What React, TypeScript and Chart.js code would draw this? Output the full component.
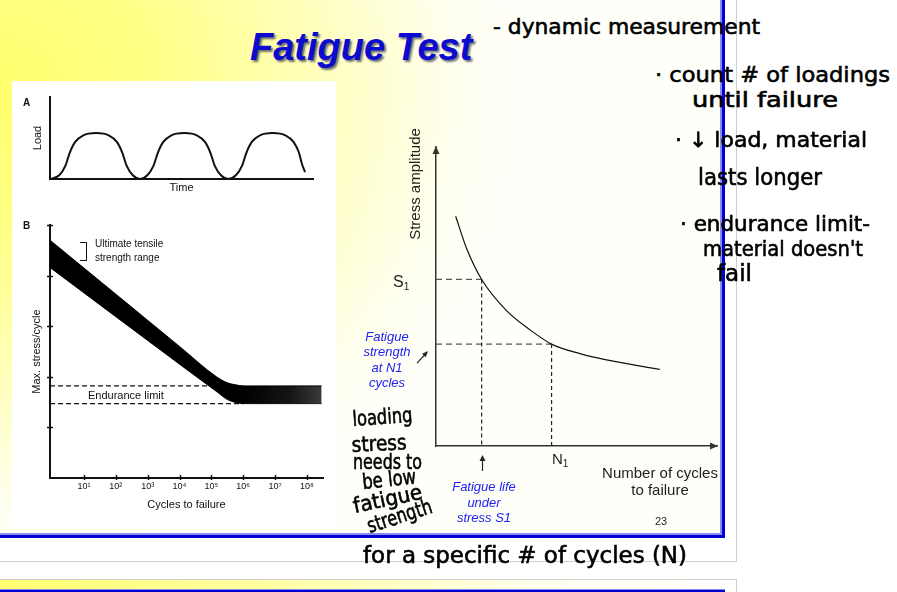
import React, { useEffect, useRef } from 'react';
import { Chart, registerables } from 'chart.js';

Chart.register(...registerables);

// ================= DATA =================
// Panel A: cyclic load vs time
const loadTime = [0, 1.05, 1.75, 2.25, 2.85, 3.75, 5.25, 6.75, 7.65, 8.25, 8.75, 9.45, 10.3, 11.1, 11.8, 12.3, 12.9, 13.8, 15.3, 16.8, 17.7, 18.3, 18.8, 19.5, 20.35, 21.2, 21.9, 22.4, 23.0, 23.9, 25.4, 26.9, 27.8, 28.4, 28.75, 29.1];
const loadLevel = [0, 0.45, 1.6, 3.2, 4.5, 5.3, 5.61, 5.3, 4.5, 3.2, 1.6, 0.45, 0, 0.45, 1.6, 3.2, 4.5, 5.3, 5.61, 5.3, 4.5, 3.2, 1.6, 0.45, 0, 0.45, 1.6, 3.2, 4.5, 5.3, 5.61, 5.3, 4.5, 3.2, 1.8, 0.85];

// Panel B: max stress per cycle vs cycles to failure (scatter band)
const bandCycles = [0.857, 1e4, 1.45e5, 3.2e5, 6e5, 1e6, 2.9e8];
const bandUpper = [4.7, 2.6, 2.0, 1.88, 1.84, 1.82, 1.82];
const bandLower = [4.16, 2.25, 1.71, 1.55, 1.49, 1.47, 1.47];
const enduranceCycles = [0.857, 1e6];
const enduranceUpper = [1.82, 1.82];
const enduranceLower = [1.47, 1.47];
const cycleTicks = [1e1, 1e2, 1e3, 1e4, 1e5, 1e6, 1e7, 1e8];
const cycleTickLabels = ['10¹', '10²', '10³', '10⁴', '10⁵', '10⁶', '10⁷', '10⁸'];
const stressTicks = [1, 2, 3, 4, 5];

// Main S-N curve
const snCycles = [7.0, 10.9, 16.25, 25.1, 33.4, 41.13, 51.2, 60.7, 79.63];
const snStress = [76.85, 66.05, 55.7, 45.3, 38.9, 34.08, 30.9, 28.8, 25.63];
const s1Stress = 55.7;
const s1Life = 16.25;
const n1Cycles = 41.13;
const n1Strength = 34.08;

// ================= STYLE =================
const FONT = '"Liberation Sans", Arial, Helvetica, sans-serif';
const HAND = '"DejaVu Sans", sans-serif';
const INK = '#111';

const pts = (xs: number[], ys: number[]) => xs.map((x, i) => ({ x, y: ys[i] }));

// ================= CHART CONFIGS =================
function chartAConfig(): any {
  return {
    type: 'line',
    data: {
      datasets: [
        {
          label: 'Load',
          data: pts(loadTime, loadLevel),
          borderColor: INK,
          borderWidth: 2,
          pointRadius: 0,
          cubicInterpolationMode: 'monotone',
          fill: false,
        },
      ],
    },
    options: {
      responsive: false,
      animation: false,
      events: [],
      layout: { padding: { left: 10, right: 19, top: 13, bottom: 0 } },
      plugins: { legend: { display: false }, tooltip: { enabled: false } },
      scales: {
        x: {
          type: 'linear', min: 0, max: 30,
          ticks: { display: false },
          grid: { display: false, drawTicks: false },
          border: { display: true, color: INK, width: 2 },
          title: { display: true, text: 'Time', color: INK, font: { family: FONT, size: 11 }, padding: { top: 0, bottom: 1.4 } },
          afterFit: (s: any) => { s.height = 17; },
        },
        y: {
          type: 'linear', min: 0, max: 10,
          ticks: { display: false },
          grid: { display: false, drawTicks: false },
          border: { display: true, color: INK, width: 2 },
          title: { display: true, text: 'Load', color: INK, font: { family: FONT, size: 11 }, padding: { top: 7.4, bottom: 0 } },
          afterFit: (s: any) => { s.width = 26; },
        },
      },
    },
  };
}

const crossTicksPlugin = {
  id: 'crossTicks',
  afterDraw(chart: any) {
    const { ctx, chartArea: a, scales } = chart;
    ctx.save();
    ctx.strokeStyle = INK;
    ctx.lineWidth = 1.5;
    ctx.beginPath();
    stressTicks.forEach((v) => {
      const py = Math.round(scales.y.getPixelForValue(v)) + 0.5;
      ctx.moveTo(a.left - 3, py);
      ctx.lineTo(a.left + 3, py);
    });
    cycleTicks.forEach((v) => {
      const px = Math.round(scales.x.getPixelForValue(v)) + 0.5;
      ctx.moveTo(px, a.bottom - 3);
      ctx.lineTo(px, a.bottom + 2);
    });
    ctx.stroke();
    ctx.restore();
  },
};

const bandFill = (c: any) => {
  const chart = c.chart;
  const { ctx, chartArea, scales } = chart;
  if (!chartArea || !scales || !scales.x) return '#000';
  const x0 = scales.x.getPixelForValue(1e6);
  const x1 = scales.x.getPixelForValue(2.9e8);
  const g = ctx.createLinearGradient(x0, 0, x1, 0);
  g.addColorStop(0, '#000');
  g.addColorStop(0.6, '#151515');
  g.addColorStop(1, '#3a3a3a');
  return g;
};

function chartBConfig(): any {
  return {
    type: 'line',
    data: {
      datasets: [
        {
          label: 'Upper edge',
          data: pts(bandCycles, bandUpper),
          borderColor: '#000', borderWidth: 1, pointRadius: 0,
          cubicInterpolationMode: 'monotone',
          fill: '+1',
          backgroundColor: bandFill,
        },
        {
          label: 'Lower edge',
          data: pts(bandCycles, bandLower),
          borderColor: '#000', borderWidth: 1, pointRadius: 0,
          cubicInterpolationMode: 'monotone',
          fill: false,
        },
        {
          label: 'Endurance upper',
          data: pts(enduranceCycles, enduranceUpper),
          borderColor: INK, borderWidth: 1.3, borderDash: [5, 3], pointRadius: 0, fill: false,
        },
        {
          label: 'Endurance lower',
          data: pts(enduranceCycles, enduranceLower),
          borderColor: INK, borderWidth: 1.3, borderDash: [5, 3], pointRadius: 0, fill: false,
        },
      ],
    },
    options: {
      responsive: false,
      animation: false,
      events: [],
      layout: { padding: { left: 10, right: 11, top: 10, bottom: 7 } },
      plugins: { legend: { display: false }, tooltip: { enabled: false } },
      scales: {
        x: {
          type: 'logarithmic', min: 0.857, max: 3.2e8,
          afterBuildTicks: (s: any) => { s.ticks = cycleTicks.map((v) => ({ value: v })); },
          ticks: {
            display: true, autoSkip: false, maxRotation: 0, minRotation: 0, padding: 3,
            color: INK, font: { family: FONT, size: 9 },
            callback: (_v: any, i: number) => cycleTickLabels[i],
          },
          grid: { display: false, drawTicks: false },
          border: { display: true, color: INK, width: 2 },
          title: { display: true, text: 'Cycles to failure', color: INK, font: { family: FONT, size: 11 }, padding: { top: 0, bottom: 6 } },
          afterFit: (s: any) => { s.height = 40; },
        },
        y: {
          type: 'linear', min: 0, max: 5,
          ticks: { display: false },
          grid: { display: false, drawTicks: false },
          border: { display: true, color: INK, width: 2 },
          title: { display: true, text: 'Max. stress/cycle', color: INK, font: { family: FONT, size: 11 }, padding: { top: 6.4, bottom: 0 } },
          afterFit: (s: any) => { s.width = 26; },
        },
      },
    },
    plugins: [crossTicksPlugin],
  };
}

const snArrowsPlugin = {
  id: 'snArrows',
  afterDraw(chart: any) {
    const { ctx, chartArea: a, scales } = chart;
    ctx.save();
    ctx.fillStyle = '#333';
    ctx.strokeStyle = '#222';
    ctx.lineWidth = 1.2;
    // axis arrowheads
    ctx.beginPath();
    ctx.moveTo(a.left, a.top - 1);
    ctx.lineTo(a.left - 3.5, a.top + 7);
    ctx.lineTo(a.left + 3.5, a.top + 7);
    ctx.closePath();
    ctx.fill();
    ctx.beginPath();
    ctx.moveTo(a.right + 1, a.bottom);
    ctx.lineTo(a.right - 7, a.bottom - 3.5);
    ctx.lineTo(a.right - 7, a.bottom + 3.5);
    ctx.closePath();
    ctx.fill();
    // arrow up to fatigue life at S1
    ctx.fillStyle = '#222';
    const px = Math.round(scales.x.getPixelForValue(s1Life)) + 0.5;
    ctx.beginPath();
    ctx.moveTo(px, a.bottom + 25);
    ctx.lineTo(px, a.bottom + 13);
    ctx.stroke();
    ctx.beginPath();
    ctx.moveTo(px, a.bottom + 9);
    ctx.lineTo(px - 3, a.bottom + 15);
    ctx.lineTo(px + 3, a.bottom + 15);
    ctx.closePath();
    ctx.fill();
    // diagonal arrow toward fatigue strength level
    const py = scales.y.getPixelForValue(n1Strength);
    const sx = a.left - 19, sy = py + 19, ex = a.left - 8, ey = py + 7;
    const len = Math.hypot(ex - sx, ey - sy);
    const dx = (ex - sx) / len, dy = (ey - sy) / len;
    ctx.beginPath();
    ctx.moveTo(sx, sy);
    ctx.lineTo(ex - dx * 4, ey - dy * 4);
    ctx.stroke();
    ctx.beginPath();
    ctx.moveTo(ex, ey);
    ctx.lineTo(ex - dx * 6 - dy * 2.5, ey - dy * 6 + dx * 2.5);
    ctx.lineTo(ex - dx * 6 + dy * 2.5, ey - dy * 6 - dx * 2.5);
    ctx.closePath();
    ctx.fill();
    ctx.restore();
  },
};

function chartMainConfig(): any {
  return {
    type: 'line',
    data: {
      datasets: [
        {
          label: 'S-N curve',
          data: pts(snCycles, snStress),
          borderColor: '#111', borderWidth: 1.2, pointRadius: 0,
          cubicInterpolationMode: 'monotone', fill: false,
        },
        {
          label: 'S1 level',
          data: [{ x: 0, y: s1Stress }, { x: s1Life, y: s1Stress }],
          borderColor: '#555', borderWidth: 1.2, borderDash: [6, 4], pointRadius: 0, fill: false,
        },
        {
          label: 'S1 life',
          data: [{ x: s1Life, y: s1Stress }, { x: s1Life, y: 0 }],
          borderColor: '#222', borderWidth: 1.2, borderDash: [4, 3], pointRadius: 0, fill: false,
        },
        {
          label: 'N1 strength',
          data: [{ x: 0, y: n1Strength }, { x: n1Cycles, y: n1Strength }],
          borderColor: '#555', borderWidth: 1.2, borderDash: [6, 4], pointRadius: 0, fill: false,
        },
        {
          label: 'N1 cycles',
          data: [{ x: n1Cycles, y: n1Strength }, { x: n1Cycles, y: 0 }],
          borderColor: '#222', borderWidth: 1.2, borderDash: [4, 3], pointRadius: 0, fill: false,
        },
      ],
    },
    options: {
      responsive: false,
      animation: false,
      events: [],
      layout: { padding: { left: 76, right: 13, top: 12, bottom: 34 } },
      plugins: { legend: { display: false }, tooltip: { enabled: false } },
      scales: {
        x: {
          type: 'linear', min: 0, max: 100,
          ticks: { display: false },
          grid: { display: false, drawTicks: false },
          border: { display: true, color: '#333', width: 1.5 },
          afterFit: (s: any) => { s.height = 0; },
        },
        y: {
          type: 'linear', min: 0, max: 100,
          ticks: { display: false },
          grid: { display: false, drawTicks: false },
          border: { display: true, color: '#333', width: 1.5 },
          afterFit: (s: any) => { s.width = 0; },
        },
      },
    },
    plugins: [snArrowsPlugin],
  };
}

// ================= COMPONENTS =================
function ChartCanvas({ left, top, width, height, config }: any) {
  const ref = useRef<HTMLCanvasElement>(null);
  useEffect(() => {
    const chart = new Chart(ref.current as HTMLCanvasElement, config());
    return () => chart.destroy();
  }, []);
  return (
    <canvas
      ref={ref}
      width={width}
      height={height}
      style={{ position: 'absolute', left, top, width, height }}
    />
  );
}

let measureCtx: CanvasRenderingContext2D | null = null;
function measure(text: string, size: number) {
  if (!measureCtx) measureCtx = document.createElement('canvas').getContext('2d');
  measureCtx!.font = `${size}px "DejaVu Sans"`;
  return measureCtx!.measureText(text).width;
}

function Hand({ t, x0, x1, base, size, rot = 0 }: any) {
  const w = measure(t, size) || 1;
  const sx = (x1 - x0) / w;
  const asc = 0.846 * size;
  return (
    <div
      style={{
        position: 'absolute', left: x0, top: base - asc, fontFamily: HAND, fontSize: size,
        lineHeight: 1, whiteSpace: 'nowrap', color: '#000',
        transform: `rotate(${rot}deg) scaleX(${sx})`, transformOrigin: `0px ${asc}px`,
        WebkitTextStroke: '0.6px #000',
      }}
    >
      {t}
    </div>
  );
}

function Txt({ x, y, size, children, style }: any) {
  return (
    <div style={{ position: 'absolute', left: x, top: y, fontFamily: FONT, fontSize: size, lineHeight: 1, whiteSpace: 'nowrap', color: INK, ...style }}>
      {children}
    </div>
  );
}

const handNotes = [
  { t: '- dynamic measurement', x0: 493, x1: 760, base: 35, size: 22 },
  { t: '· count # of loadings', x0: 655, x1: 890, base: 83, size: 22 },
  { t: 'until failure', x0: 692, x1: 838, base: 108, size: 21 },
  { t: '· ↓ load, material', x0: 675, x1: 867, base: 148, size: 21 },
  { t: 'lasts longer', x0: 698, x1: 822, base: 185, size: 23 },
  { t: '· endurance limit-', x0: 680, x1: 870, base: 232, size: 21 },
  { t: "material doesn't", x0: 703, x1: 863, base: 257, size: 21 },
  { t: 'fail', x0: 717, x1: 752, base: 281, size: 23 },
  { t: 'loading', x0: 353, x1: 413, base: 427, size: 21, rot: -4 },
  { t: 'stress', x0: 352, x1: 407, base: 453, size: 21, rot: -3 },
  { t: 'needs to', x0: 353, x1: 422, base: 470, size: 21 },
  { t: 'be low', x0: 363, x1: 417, base: 490, size: 21, rot: -6 },
  { t: 'fatigue', x0: 355, x1: 425, base: 514, size: 21, rot: -12 },
  { t: 'strength', x0: 370, x1: 437, base: 534, size: 21, rot: -18 },
  { t: 'for a specific # of cycles (N)', x0: 363, x1: 687, base: 563, size: 23 },
];

export default function App() {
  const blue = '#2020f0';
  return (
    <div style={{ position: 'fixed', left: 0, top: 0, width: 897, height: 592, background: '#fff', overflow: 'hidden', fontFamily: FONT }}>
      {/* slide background */}
      <div style={{ position: 'absolute', left: 0, top: 0, width: 725, height: 538, background: 'radial-gradient(520px 470px at 0px 90px, #ffff6e 0%, #ffff86 30%, #ffffba 60%, #fffff0 88%, #fffffa 100%)' }} />
      {/* slide borders */}
      <div style={{ position: 'absolute', left: 720, top: 0, width: 2, height: 535, background: '#8a8af2' }} />
      <div style={{ position: 'absolute', left: 722, top: 0, width: 3, height: 538, background: '#0000d0' }} />
      <div style={{ position: 'absolute', left: 0, top: 533, width: 722, height: 2, background: '#8a8af2' }} />
      <div style={{ position: 'absolute', left: 0, top: 535, width: 725, height: 3, background: '#0000d0' }} />
      {/* page frame lines */}
      <div style={{ position: 'absolute', left: 736, top: 0, width: 1, height: 562, background: '#cfcfcf' }} />
      <div style={{ position: 'absolute', left: 0, top: 561, width: 737, height: 1, background: '#cfcfcf' }} />
      <div style={{ position: 'absolute', left: 0, top: 579, width: 737, height: 1, background: '#cfcfcf' }} />
      <div style={{ position: 'absolute', left: 736, top: 579, width: 1, height: 13, background: '#cfcfcf' }} />
      <div style={{ position: 'absolute', left: 0, top: 580, width: 736, height: 9, background: 'linear-gradient(to right, #ffff70 0%, #ffffa0 35%, #fffff0 75%, #ffffff 100%)' }} />
      <div style={{ position: 'absolute', left: 0, top: 589, width: 725, height: 1, background: '#8a8af2' }} />
      <div style={{ position: 'absolute', left: 0, top: 590, width: 725, height: 2, background: '#0000d0' }} />

      {/* title */}
      <div style={{ position: 'absolute', left: 250, top: 60 - 0.846 * 38, fontFamily: FONT, fontSize: 38, fontWeight: 'bold', fontStyle: 'italic', lineHeight: 1, color: '#0c0cd0', textShadow: '2px 2px 2px rgba(0,0,40,0.55)', whiteSpace: 'nowrap' }}>
        Fatigue Test
      </div>

      {/* left image panel */}
      <div style={{ position: 'absolute', left: 12, top: 81, width: 324, height: 447, background: '#fff' }} />
      <ChartCanvas left={14} top={84} width={318} height={112} config={chartAConfig} />
      <ChartCanvas left={14} top={215} width={320} height={310} config={chartBConfig} />
      <Txt x={23} y={106 - 8.5} size={10} style={{ fontWeight: 'bold' }}>A</Txt>
      <Txt x={23} y={229 - 8.5} size={10} style={{ fontWeight: 'bold' }}>B</Txt>
      <div style={{ position: 'absolute', left: 80, top: 242, width: 6, height: 17, borderTop: '1.5px solid #111', borderRight: '1.5px solid #111', borderBottom: '1.5px solid #111' }} />
      <Txt x={95} y={247.5 - 8.5} size={10}>Ultimate tensile</Txt>
      <Txt x={95} y={261.5 - 8.5} size={10}>strength range</Txt>
      <Txt x={88} y={399 - 9.3} size={11}>Endurance limit</Txt>

      {/* main S-N chart */}
      <ChartCanvas left={360} top={135} width={370} height={345} config={chartMainConfig} />
      <div style={{ position: 'absolute', left: 414, top: 184, transform: 'translate(-50%, -50%) rotate(-90deg)', fontFamily: FONT, fontSize: 15, lineHeight: 1, whiteSpace: 'nowrap', color: '#222' }}>
        Stress amplitude
      </div>
      <Txt x={393} y={287 - 13.5} size={16} style={{ color: '#222' }}>
        S<span style={{ fontSize: 10, position: 'relative', top: 3 }}>1</span>
      </Txt>
      <Txt x={552} y={464 - 12.7} size={15} style={{ color: '#222' }}>
        N<span style={{ fontSize: 10, position: 'relative', top: 3 }}>1</span>
      </Txt>
      <div style={{ position: 'absolute', left: 660, top: 478 - 13.7, transform: 'translateX(-50%)', fontFamily: FONT, fontSize: 15, lineHeight: '17px', textAlign: 'center', whiteSpace: 'nowrap', color: '#222' }}>
        Number of cycles<br />to failure
      </div>
      <div style={{ position: 'absolute', left: 484, top: 491.5 - 12.3, transform: 'translateX(-50%)', fontFamily: FONT, fontSize: 13, fontStyle: 'italic', lineHeight: '15.5px', textAlign: 'center', whiteSpace: 'nowrap', color: blue }}>
        Fatigue life<br />under<br />stress S1
      </div>
      <div style={{ position: 'absolute', left: 387, top: 341 - 12.2, transform: 'translateX(-50%)', fontFamily: FONT, fontSize: 13, fontStyle: 'italic', lineHeight: '15.4px', textAlign: 'center', whiteSpace: 'nowrap', color: blue }}>
        Fatigue<br />strength<br />at N1<br />cycles
      </div>
      <div style={{ position: 'absolute', left: 661, top: 525 - 9.3, transform: 'translateX(-50%)', fontFamily: FONT, fontSize: 11, lineHeight: 1, color: '#222' }}>
        23
      </div>

      {/* handwritten notes */}
      {handNotes.map((n, i) => (
        <Hand key={i} {...n} />
      ))}
    </div>
  );
}
